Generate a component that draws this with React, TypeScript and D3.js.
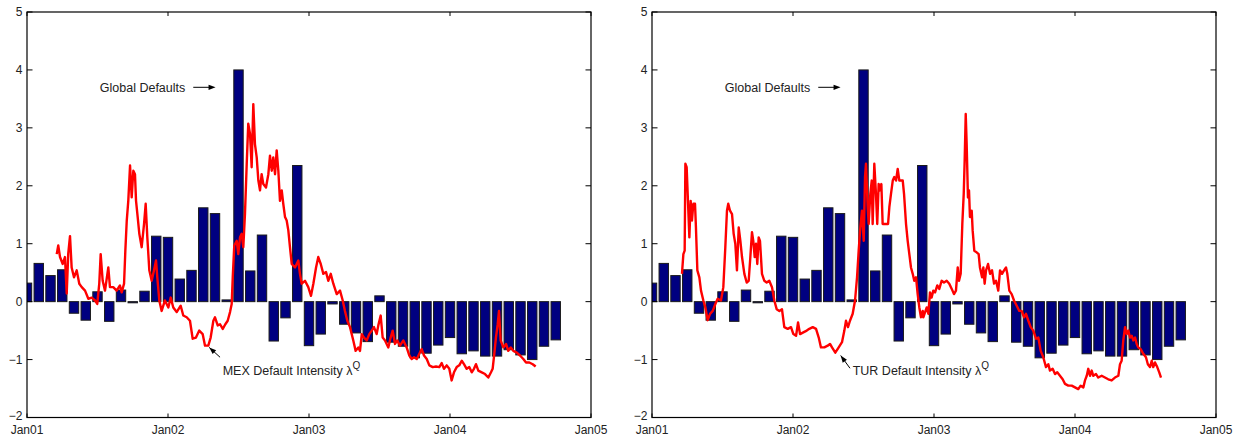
import * as d3 from "d3";

// monthly global defaults, Jan01 .. Oct04 (one bar per month)
const barValues = [
  0.32, 0.66, 0.45, 0.55, -0.2, -0.32, 0.17, -0.34, 0.2, -0.02, 0.18, 1.13,
  1.11, 0.39, 0.54, 1.62, 1.52, 0.03, 4.0, 0.53, 1.15, -0.68, -0.28, 2.35,
  -0.76, -0.56, -0.04, -0.39, -0.54, -0.69, 0.1, -0.7, -0.77, -0.97, -0.89, -0.75,
  -0.62, -0.9, -0.85, -0.94, -0.94, -0.83, -0.92, -1.0, -0.77, -0.66,
];

// MEX default intensity, time in months since Jan01
const mexMonths = [
  2.53, 2.66, 2.81, 3.04, 3.23, 3.38, 3.51, 3.66, 3.8, 4.0, 4.23, 4.45, 4.66, 4.94, 5.22, 5.51,
  5.79, 5.98, 6.15, 6.27, 6.44, 6.64, 6.92, 7.06, 7.34, 7.63, 7.91, 8.06, 8.26, 8.37, 8.49, 8.62,
  8.77, 8.91, 9.05, 9.19, 9.28, 9.42, 9.56, 9.76, 9.96, 10.1, 10.24, 10.41, 10.61, 10.81, 10.98,
  11.09, 11.26, 11.46, 11.74, 12.03, 12.23, 12.45, 12.74, 13.08, 13.3, 13.59, 13.87, 14.1, 14.38,
  14.66, 14.95, 15.15, 15.43, 15.63, 15.86, 16.0, 16.23, 16.43, 16.66, 16.88, 17.08, 17.28, 17.42,
  17.51, 17.64, 17.85, 17.98, 18.13, 18.27, 18.41, 18.55, 18.7, 18.83, 18.98, 19.12, 19.26, 19.4,
  19.55, 19.69, 19.83, 19.97, 20.11, 20.34, 20.54, 20.68, 20.83, 20.96, 21.11, 21.25, 21.39, 21.53,
  21.68, 21.81, 21.96, 22.1, 22.24, 22.38, 22.53, 22.81, 23.09, 23.23, 23.38, 23.66, 23.94, 24.17,
  24.37, 24.6, 24.79, 25.0, 25.22, 25.45, 25.64, 25.85, 26.07, 26.36, 26.64, 26.87, 27.06, 27.26,
  27.49, 27.77, 27.97, 28.2, 28.34, 28.49, 28.68, 28.91, 29.13, 29.34, 29.53, 29.76, 29.9, 30.1,
  30.27, 30.47, 30.75, 30.95, 31.12, 31.32, 31.51, 31.74, 32.03, 32.31, 32.54, 32.74, 32.94, 33.17,
  33.39, 33.59, 33.79, 34.02, 34.24, 34.53, 34.81, 35.09, 35.29, 35.49, 35.72, 35.94, 36.14, 36.34,
  36.57, 36.79, 37.0, 37.19, 37.42, 37.64, 37.85, 38.04, 38.21, 38.41, 38.7, 38.98, 39.26, 39.49,
  39.63, 39.77, 39.91, 40.06, 40.17, 40.31, 40.54, 40.77, 40.96, 41.17, 41.39, 41.68, 41.96, 42.24,
  42.47, 42.75, 43.04, 43.29,
];
const mexValues = [
  0.82, 0.97, 0.77, 0.65, 0.77, 0.14, 0.83, 1.13, 0.59, 0.42, 0.54, 0.31, 0.25, 0.19, 0.05, 0.07,
  0.02, -0.04, 0.31, 0.82, 0.36, 0.19, 0.59, 0.25, 0.25, 0.19, 0.28, 0.16, 0.31, 0.88, 1.4, 1.74,
  2.35, 1.8, 2.26, 2.2, 1.74, 1.46, 1.17, 0.94, 1.34, 1.69, 1.11, 0.54, 0.36, 0.54, 0.71,
  0.42, 0.02, -0.16, 0.02, -0.1, 0.07, -0.1, -0.18, -0.07, -0.24, -0.27, -0.33, -0.64, -0.62,
  -0.5, -0.56, -0.76, -0.76, -0.62, -0.33, -0.27, -0.41, -0.39, -0.47, -0.39, -0.33, -0.18, -0.04,
  0.42, 0.97, 1.05, 0.82, 1.11, 1.17, 0.94, 1.51, 2.38, 3.07, 2.9, 2.32, 3.41, 2.72,
  2.49, 2.09, 1.92, 2.2, 2.03, 1.97, 2.2, 2.52, 2.26, 2.49, 2.2, 2.61, 2.26, 1.74,
  1.92, 1.69, 1.46, 1.4, 1.23, 0.94, 0.65, 0.59, 0.71, 0.48, 0.31, 0.36, 0.25, 0.1,
  0.31, 0.59, 0.77, 0.65, 0.48, 0.51, 0.36, 0.48, 0.31, 0.13, 0.19, 0.02, -0.16, -0.33,
  -0.44, -0.67, -0.85, -0.79, -0.85, -0.56, -0.62, -0.67, -0.56, -0.5, -0.44, -0.56, -0.41, -0.24,
  -0.62, -0.67, -0.79, -0.62, -0.5, -0.73, -0.67, -0.76, -0.67, -0.79, -0.93, -0.99, -0.96, -0.99,
  -0.9, -0.82, -0.93, -0.99, -1.1, -1.13, -1.12, -1.13, -1.06, -1.16, -1.1, -1.16, -1.36, -1.22,
  -1.13, -1.1, -1.02, -1.08, -1.16, -1.13, -1.22, -1.16, -1.08, -1.19, -1.22, -1.25, -1.31, -1.22,
  -1.16, -0.9, -0.62, -0.39, -0.16, -0.67, -0.79, -0.73, -0.85, -0.79, -0.85, -0.88, -0.93, -0.99,
  -1.05, -1.05, -1.08, -1.12,
];

// TUR default intensity, time in months since Jan01
const turMonths = [
  2.55, 2.67, 2.78, 2.84, 2.95, 3.06, 3.18, 3.29, 3.4, 3.52, 3.66, 3.74, 3.86, 4.03, 4.17, 4.37,
  4.54, 4.74, 4.94, 5.17, 5.39, 5.59, 5.87, 6.07, 6.24, 6.38, 6.49, 6.64, 6.81, 6.95, 7.09, 7.23,
  7.38, 7.52, 7.66, 7.86, 8.06, 8.23, 8.37, 8.51, 8.62, 8.74, 8.85, 8.96, 9.08, 9.19, 9.36, 9.56,
  9.76, 9.98, 10.21, 10.41, 10.61, 10.84, 11.06, 11.26, 11.55, 11.83, 12.03, 12.26, 12.43, 12.6,
  12.88, 13.17, 13.39, 13.68, 13.96, 14.19, 14.38, 14.67, 14.95, 15.15, 15.32, 15.6, 15.89, 16.17,
  16.37, 16.51, 16.68, 16.85, 17.08, 17.28, 17.45, 17.59, 17.73, 17.87, 18.02, 18.13, 18.21, 18.36,
  18.44, 18.58, 18.7, 18.78, 18.92, 19.06, 19.17, 19.29, 19.4, 19.52, 19.63, 19.91, 20.09, 20.2,
  20.34, 20.49, 20.62, 20.77, 20.91, 21.05, 21.19, 21.34, 21.45, 21.62, 21.76, 21.9, 22.04, 22.19,
  22.32, 22.47, 22.61, 22.75, 22.89, 23.04, 23.09, 23.38, 23.52, 23.66, 23.8, 23.94, 24.09, 24.28,
  24.45, 24.65, 24.85, 25.08, 25.3, 25.51, 25.7, 25.87, 26.02, 26.13, 26.27, 26.41, 26.53, 26.61,
  26.7, 26.78, 26.89, 26.98, 27.06, 27.21, 27.29, 27.43, 27.63, 27.8, 27.91, 28.09, 28.2, 28.31,
  28.43, 28.6, 28.77, 28.94, 29.11, 29.28, 29.47, 29.62, 29.79, 29.96, 30.13, 30.24, 30.41, 30.61,
  30.81, 31.04, 31.26, 31.46, 31.66, 31.83, 32.03, 32.23, 32.45, 32.68, 32.88, 33.08, 33.3, 33.53,
  33.73, 33.87, 34.1, 34.3, 34.49, 34.72, 34.95, 35.15, 35.43, 35.72, 36.0, 36.28, 36.48, 36.71,
  36.85, 37.0, 37.13, 37.28, 37.42, 37.56, 37.79, 37.98, 38.27, 38.55, 38.83, 39.12, 39.4, 39.69,
  39.83, 39.97, 40.11, 40.26, 40.4, 40.54, 40.68, 40.83, 40.96, 41.11, 41.25, 41.39, 41.59, 41.81,
  42.04, 42.2, 42.38, 42.53, 42.66, 42.81, 43.0, 43.17, 43.32,
];
const turValues = [
  0.48, 0.82, 0.88, 2.38, 2.32, 1.74, 1.11, 1.74, 1.4, 1.69, 1.69, 1.28, 0.54, 0.42, 0.19, 0.02,
  -0.1, -0.32, -0.21, -0.16, -0.04, 0.05, 0.02, 0.25, 0.94, 1.57, 1.69, 1.57, 1.51, 1.17, 1.0, 0.54,
  1.28, 1.05, 0.77, 0.48, 0.33, 0.36, 0.77, 1.2, 1.05, 0.77, 1.0, 0.65, 1.11, 1.05, 0.48, 0.36,
  0.33, 0.36, 0.25, 0.02, -0.13, -0.16, -0.13, -0.44, -0.47, -0.44, -0.56, -0.59, -0.36, -0.56,
  -0.53, -0.5, -0.47, -0.44, -0.47, -0.62, -0.79, -0.79, -0.76, -0.73, -0.79, -0.88, -0.79, -0.7,
  -0.5, -0.33, -0.44, -0.33, -0.21, 0.02, 0.42, 0.88, 1.28, 1.57, 1.05, 2.15, 2.38, 1.63,
  1.34, 1.86, 2.09, 1.34, 2.38, 1.86, 1.34, 2.03, 1.92, 2.03, 1.34, 1.34, 1.34, 1.63,
  1.86, 2.09, 2.15, 2.09, 2.29, 2.09, 2.09, 2.09, 1.86, 1.34, 1.05, 0.82, 0.59, 0.48,
  0.36, 0.42, 0.13, -0.1, -0.27, -0.16, -0.27, -0.1, -0.21, 0.16, 0.07, 0.19, 0.16, 0.28,
  0.22, 0.36, 0.33, 0.36, 0.31, 0.22, 0.13, 0.19, 0.59, 0.36, 0.48, 1.34, 1.86, 2.44,
  3.24, 2.72, 1.8, 1.92, 1.46, 1.57, 1.23, 0.88, 0.85, 0.82, 0.59, 0.42, 0.59, 0.31,
  0.54, 0.65, 0.48, 0.54, 0.31, 0.36, 0.19, 0.54, 0.48, 0.54, 0.59, 0.48, 0.19, 0.13,
  0.02, -0.07, -0.16, -0.16, -0.27, -0.21, -0.33, -0.44, -0.5, -0.64, -0.62, -0.85, -0.96, -1.13,
  -1.08, -1.19, -1.16, -1.25, -1.22, -1.28, -1.34, -1.42, -1.45, -1.45, -1.48, -1.51, -1.45, -1.48,
  -1.36, -1.28, -1.16, -1.28, -1.19, -1.28, -1.25, -1.31, -1.28, -1.31, -1.34, -1.36, -1.31, -1.28,
  -1.08, -1.02, -0.67, -0.44, -0.56, -0.5, -0.62, -0.59, -0.67, -0.62, -0.73, -0.79, -0.82, -0.9,
  -0.96, -1.08, -1.13, -1.02, -1.13, -1.05, -1.13, -1.22, -1.31,
];

const xTickMonths = [0, 12, 24, 36, 48];
const xTickLabels = ["Jan01", "Jan02", "Jan03", "Jan04", "Jan05"];
const yTicks = [-2, -1, 0, 1, 2, 3, 4, 5];

const FONT = "'Liberation Sans', Arial, Helvetica, sans-serif";
const BAR_FILL = "#000080";
const LINE_RED = "#ff0000";

type PanelProps = {
  id: string;
  left: number;
  months: number[];
  values: number[];
  country: string;
  labelAt: [number, number];
  arrowFrom: [number, number];
  arrowTo: [number, number];
};

function Panel({ id, left, months, values, country, labelAt, arrowFrom, arrowTo }: PanelProps) {
  const width = 564;
  const top = 12;
  const bottom = 417.5;
  const x = d3.scaleLinear().domain([0, 48]).range([left, left + width]);
  const y = d3.scaleLinear().domain([-2, 5]).range([bottom, top]);
  const bw = x(0.8) - x(0);

  const pts = months.map((m, i) => [m, values[i]] as [number, number]);
  const line = d3
    .line<[number, number]>()
    .x((d) => x(d[0]))
    .y((d) => y(d[1]));

  const arrowHead = (x1: number, y1: number, x2: number, y2: number) => {
    const a = Math.atan2(y2 - y1, x2 - x1);
    const len = 7;
    const half = 2.6;
    const bx = x2 - len * Math.cos(a);
    const by = y2 - len * Math.sin(a);
    const px = -Math.sin(a) * half;
    const py = Math.cos(a) * half;
    return `M${x2},${y2}L${bx + px},${by + py}L${bx - px},${by - py}Z`;
  };

  // Global Defaults annotation (data coords)
  const gY = y(3.7);
  const gx1 = x(14.15);
  const gx2 = x(16.05);
  const ax1 = x(arrowFrom[0]);
  const ay1 = y(arrowFrom[1]);
  const ax2 = x(arrowTo[0]);
  const ay2 = y(arrowTo[1]);

  return (
    <g fontFamily={FONT}>
      <defs>
        <clipPath id={`clip-${id}`}>
          <rect x={left} y={top} width={width} height={bottom - top} />
        </clipPath>
      </defs>
      <rect x={left} y={top} width={width} height={bottom - top} fill="#fff" />
      <g clipPath={`url(#clip-${id})`}>
        {barValues.map((v, i) => (
          <rect
            key={i}
            x={x(i) - bw / 2}
            y={y(Math.max(v, 0))}
            width={bw}
            height={Math.abs(y(v) - y(0))}
            fill={BAR_FILL}
            stroke="#1a1a1a"
            strokeWidth={1}
          />
        ))}
        <path d={line(pts) ?? ""} fill="none" stroke={LINE_RED} strokeWidth={2.4} strokeLinejoin="round" />
      </g>

      {/* axes box */}
      <rect x={left} y={top} width={width} height={bottom - top} fill="none" stroke="#000" strokeWidth={1.2} />

      {xTickMonths.map((m, i) => (
        <g key={`xt${i}`}>
          <line x1={x(m)} x2={x(m)} y1={bottom} y2={bottom - 4} stroke="#000" />
          <line x1={x(m)} x2={x(m)} y1={top} y2={top + 4} stroke="#000" />
          <text x={x(m)} y={433.5} textAnchor="middle" fontSize={12} fill="#222">
            {xTickLabels[i]}
          </text>
        </g>
      ))}
      {yTicks.map((t) => (
        <g key={`yt${t}`}>
          <line x1={left} x2={left + 5.5} y1={y(t)} y2={y(t)} stroke="#000" />
          <line x1={left + width} x2={left + width - 5.5} y1={y(t)} y2={y(t)} stroke="#000" />
          <text x={left - 4.5} y={y(t)} dy={t === -2 ? "0.2em" : "0.36em"} textAnchor="end" fontSize={12} fill="#222">
            {t < 0 ? `\u2212${-t}` : `${t}`}
          </text>
        </g>
      ))}

      {/* Global Defaults annotation */}
      <text x={x(13.47)} y={gY} dy="0.36em" textAnchor="end" fontSize={12.5} fill="#222">
        Global Defaults
      </text>
      <line x1={gx1} x2={gx2 - 5} y1={gY} y2={gY} stroke="#000" strokeWidth={1} />
      <path d={arrowHead(gx1, gY, gx2, gY)} fill="#000" />

      {/* country intensity annotation */}
      <text x={x(labelAt[0])} y={y(labelAt[1])} fontSize={12.5} fill="#222">
        {`${country} Default Intensity \u03bb`}
        <tspan dy={-6} fontSize={10}>
          Q
        </tspan>
      </text>
      <line x1={ax1} y1={ay1} x2={ax2} y2={ay2} stroke="#000" strokeWidth={1} />
      <path d={arrowHead(ax1, ay1, ax2, ay2)} fill="#000" />
    </g>
  );
}

export default function App() {
  return (
    <div style={{ position: "absolute", left: 0, top: 0 }}>
      <svg width={1239} height={436} style={{ display: "block", background: "#fff" }}>
        <Panel
          id="mex"
          left={27}
          months={mexMonths}
          values={mexValues}
          country="MEX"
          labelAt={[16.65, -1.26]}
          arrowFrom={[16.43, -0.96]}
          arrowTo={[15.51, -0.79]}
        />
        <Panel
          id="tur"
          left={652}
          months={turMonths}
          values={turValues}
          country="TUR"
          labelAt={[17.08, -1.26]}
          arrowFrom={[16.85, -1.15]}
          arrowTo={[16.06, -0.93]}
        />
      </svg>
    </div>
  );
}
